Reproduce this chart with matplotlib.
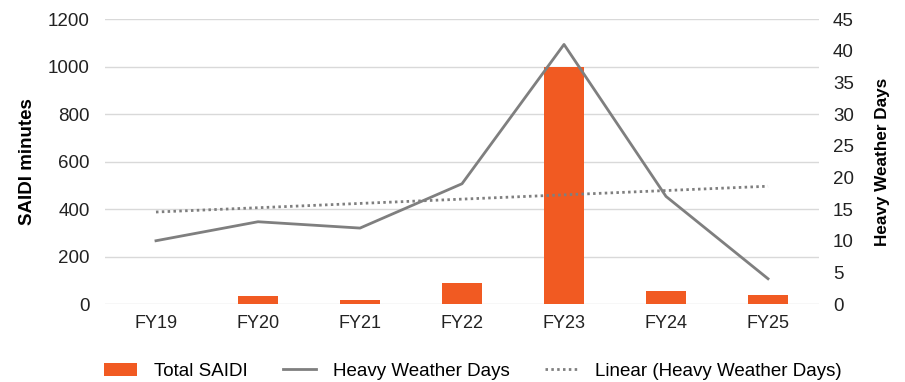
import numpy as np
import matplotlib
matplotlib.use("Agg")
import matplotlib.pyplot as plt

plt.rcParams['font.family'] = ['Liberation Sans', 'DejaVu Sans']

years = ["FY19", "FY20", "FY21", "FY22", "FY23", "FY24", "FY25"]
saidi = [0, 34, 17, 90, 1000, 55, 38]
weather_days = [10, 13, 12, 19, 41, 17, 4]

orange = "#F15A22"
grey = "#7F7F7F"

x = np.arange(len(years))
# least-squares trend of heavy weather days
slope, intercept = np.polyfit(x, weather_days, 1)
trend = slope * x + intercept

fig = plt.figure(figsize=(9.05, 3.82), dpi=100)
ax = fig.add_axes([0.116, 0.204, 0.789, 0.746])
ax2 = ax.twinx()

bars = ax.bar(x, saidi, width=0.4, color=orange, zorder=2, label="Total SAIDI")
line, = ax2.plot(x, weather_days, color=grey, lw=2, label="Heavy Weather Days")
lin, = ax2.plot(x, trend, color=grey, lw=2, ls=(0, (0.9, 1.2)),
                label="Linear (Heavy Weather Days)")

ax.set_xlim(-0.5, len(years) - 0.5)
ax.set_ylim(0, 1200)
ax.set_yticks(range(0, 1201, 200))
ax2.set_ylim(0, 45)
ax2.set_yticks(range(0, 46, 5))
ax.set_xticks(x)
ax.set_xticklabels(years)

ax.yaxis.grid(True, color="#D9D9D9", lw=1, zorder=0)
ax.set_axisbelow(True)
for a in (ax, ax2):
    for s in a.spines.values():
        s.set_visible(False)
    a.tick_params(length=0, labelsize=13.5, colors="#222222")
ax.tick_params(axis='y', pad=11)
ax.tick_params(axis='x', pad=8, labelsize=13)
ax2.tick_params(axis='y', pad=10)

ax.set_ylabel("SAIDI minutes", fontsize=13.5, fontweight='bold')
ax.yaxis.set_label_coords(-0.097, 0.5)
ax2.set_ylabel("Heavy Weather Days", fontsize=12.3, fontweight='bold')
ax2.yaxis.set_label_coords(1.078, 0.5)

fig.legend(handles=[bars, line, lin], loc='lower left',
           bbox_to_anchor=(0.096, -0.038), ncol=3, frameon=False,
           prop={'size': 13.5},
           handlelength=1.76, handletextpad=0.9, columnspacing=1.9)

fig.savefig("out.png", dpi=100)
